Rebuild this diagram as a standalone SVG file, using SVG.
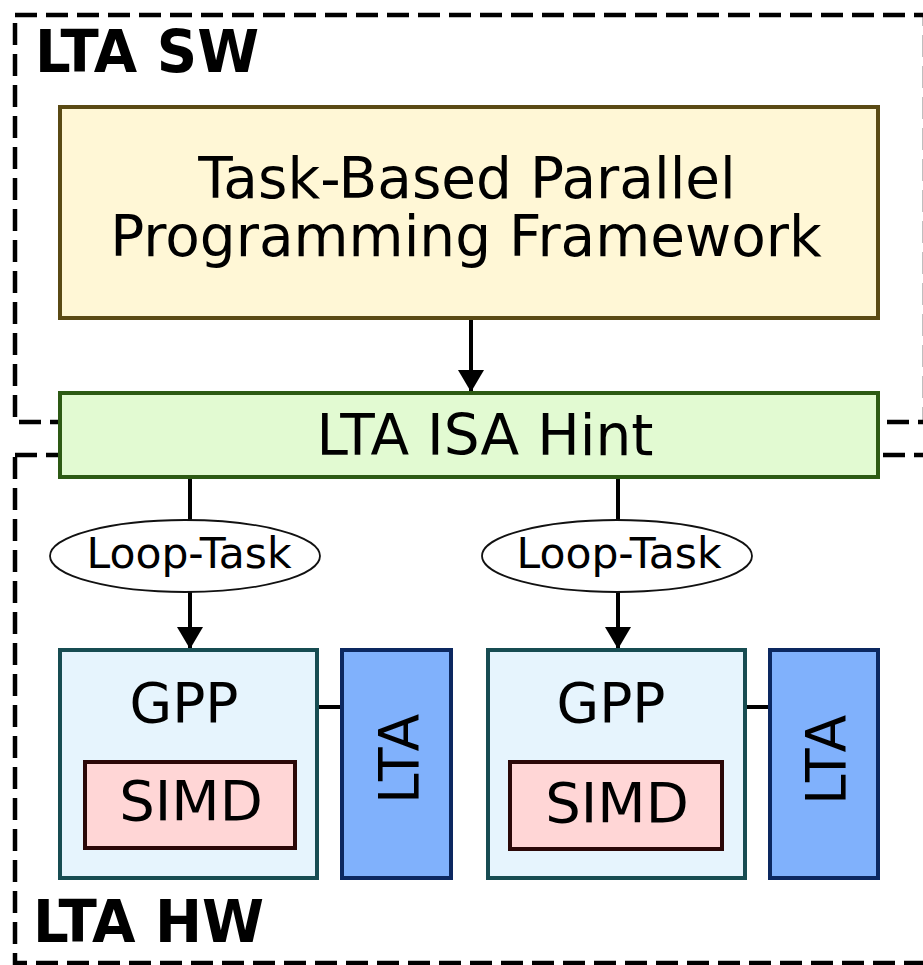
<svg xmlns="http://www.w3.org/2000/svg" width="923" height="965" viewBox="0 0 923 965">
  <defs>
    <style>
      .t { font-family: "DejaVu Sans", "Liberation Sans", sans-serif; fill: #000; text-anchor: middle; }
      .lbl { font-family: "DejaVu Sans Condensed", "DejaVu Sans", "Liberation Sans Narrow", sans-serif; font-weight: bold; font-stretch: condensed; font-size: 58px; fill: #000; }
      .grp { fill: none; stroke: #000; stroke-width: 4.5; stroke-dasharray: 22 9; }
      .ln { stroke: #000; stroke-width: 4; fill: none; }
    </style>
    <marker id="arr" markerUnits="userSpaceOnUse" markerWidth="30" markerHeight="30" refX="22" refY="13" orient="auto">
      <path d="M0,0 L22,13 L0,26 Z" fill="#000"/>
    </marker>
  </defs>
  <rect width="923" height="965" fill="#fff"/>

  <g id="sw-group">
    <rect class="grp" x="15" y="15" width="910" height="407"/>
    <text class="lbl" x="35" y="72" textLength="224" lengthAdjust="spacingAndGlyphs">LTA SW</text>
  </g>
  <g id="hw-group">
    <rect class="grp" x="15" y="455" width="930" height="508"/>
    <text class="lbl" x="33" y="942" textLength="231" lengthAdjust="spacingAndGlyphs">LTA HW</text>
  </g>

  <g id="connectors">
    <line class="ln" x1="471" y1="318" x2="471" y2="392" marker-end="url(#arr)"/>
    <line class="ln" x1="190" y1="477" x2="190" y2="520"/>
    <line class="ln" x1="618" y1="477" x2="618" y2="520"/>
    <line class="ln" x1="190" y1="592" x2="190" y2="649" marker-end="url(#arr)"/>
    <line class="ln" x1="618" y1="592" x2="618" y2="649" marker-end="url(#arr)"/>
    <line class="ln" x1="317" y1="707" x2="342" y2="707"/>
    <line class="ln" x1="745" y1="707" x2="770" y2="707"/>
  </g>

  <g id="framework">
    <rect x="60" y="107" width="818" height="211" fill="#fff7d6" stroke="#5a4a14" stroke-width="4"/>
    <text class="t" x="467" y="198" font-size="56.5">Task-Based Parallel</text>
    <text class="t" x="466" y="256" font-size="56.5">Programming Framework</text>
  </g>

  <g id="isa-hint">
    <rect x="60" y="393" width="818" height="84" fill="#e2fad2" stroke="#2d5a14" stroke-width="4"/>
    <text class="t" x="485" y="455" font-size="56.5">LTA ISA Hint</text>
  </g>

  <g id="loop-task-1">
    <ellipse cx="185" cy="556" rx="135" ry="36" fill="#fff" stroke="#111" stroke-width="1.8"/>
    <text class="t" x="189" y="568" font-size="42.5">Loop-Task</text>
  </g>
  <g id="loop-task-2">
    <ellipse cx="617" cy="556" rx="135" ry="36" fill="#fff" stroke="#111" stroke-width="1.8"/>
    <text class="t" x="619" y="568" font-size="42.5">Loop-Task</text>
  </g>

  <g id="gpp-1">
    <rect x="60" y="650" width="257" height="228" fill="#e6f4fd" stroke="#174c52" stroke-width="4"/>
    <text class="t" x="184" y="722" font-size="55">GPP</text>
  </g>
  <g id="simd-1">
    <rect x="85" y="762" width="210" height="86" fill="#ffd6d6" stroke="#2b0808" stroke-width="4"/>
    <text class="t" x="191" y="820" font-size="56">SIMD</text>
  </g>
  <g id="lta-1">
    <rect x="342" y="650" width="109" height="228" fill="#80b1fc" stroke="#0c2860" stroke-width="4"/>
    <text class="t" font-size="55" transform="translate(418,759) rotate(-90)">LTA</text>
  </g>

  <g id="gpp-2">
    <rect x="488" y="650" width="257" height="228" fill="#e6f4fd" stroke="#174c52" stroke-width="4"/>
    <text class="t" x="611" y="722" font-size="55">GPP</text>
  </g>
  <g id="simd-2">
    <rect x="510" y="762" width="212" height="87" fill="#ffd6d6" stroke="#2b0808" stroke-width="4"/>
    <text class="t" x="617" y="822" font-size="56">SIMD</text>
  </g>
  <g id="lta-2">
    <rect x="770" y="650" width="108" height="228" fill="#80b1fc" stroke="#0c2860" stroke-width="4"/>
    <text class="t" font-size="55" transform="translate(845,760) rotate(-90)">LTA</text>
  </g>
</svg>
